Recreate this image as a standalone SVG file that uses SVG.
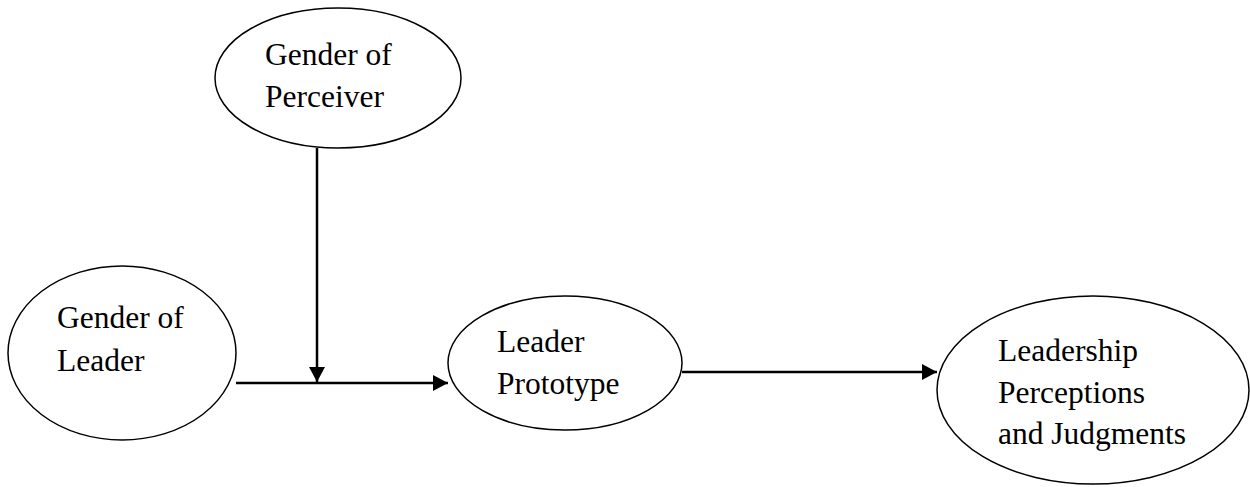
<svg xmlns="http://www.w3.org/2000/svg" width="1250" height="487" viewBox="0 0 1250 487">
<style>
.node ellipse{fill:#fff;stroke:#000;stroke-width:1.5}
.node text{font-family:"Liberation Serif","Times New Roman",serif;font-size:31.5px;fill:#000}
.conn line{stroke:#000;stroke-width:2.5}
</style>
<defs>
<marker id="arr" markerWidth="16" markerHeight="16" refX="15" refY="8" orient="auto" markerUnits="userSpaceOnUse">
<path d="M0,0 L15,8 L0,16 Z" fill="#000"/>
</marker>
</defs>
<rect width="1250" height="487" fill="#fff"/>
<g id="perceiver" class="node">
<ellipse cx="338" cy="78" rx="123" ry="70"/>
<text x="265" y="65">Gender of</text>
<text x="265" y="107">Perceiver</text>
</g>
<g id="leader" class="node">
<ellipse cx="122" cy="353" rx="114" ry="87"/>
<text x="57" y="328">Gender of</text>
<text x="57" y="371">Leader</text>
</g>
<g id="prototype" class="node">
<ellipse cx="565" cy="363" rx="117" ry="67"/>
<text x="497" y="352">Leader</text>
<text x="497" y="394">Prototype</text>
</g>
<g id="judgments" class="node">
<ellipse cx="1093" cy="390" rx="156" ry="94"/>
<text x="998" y="361">Leadership</text>
<text x="998" y="403">Perceptions</text>
<text x="998" y="444">and Judgments</text>
</g>
<g id="connectors" class="conn">
<line x1="317" y1="148" x2="317" y2="382" marker-end="url(#arr)"/>
<line x1="236" y1="383" x2="448" y2="383" marker-end="url(#arr)"/>
<line x1="682" y1="372" x2="937" y2="372" marker-end="url(#arr)"/>
</g>
</svg>
